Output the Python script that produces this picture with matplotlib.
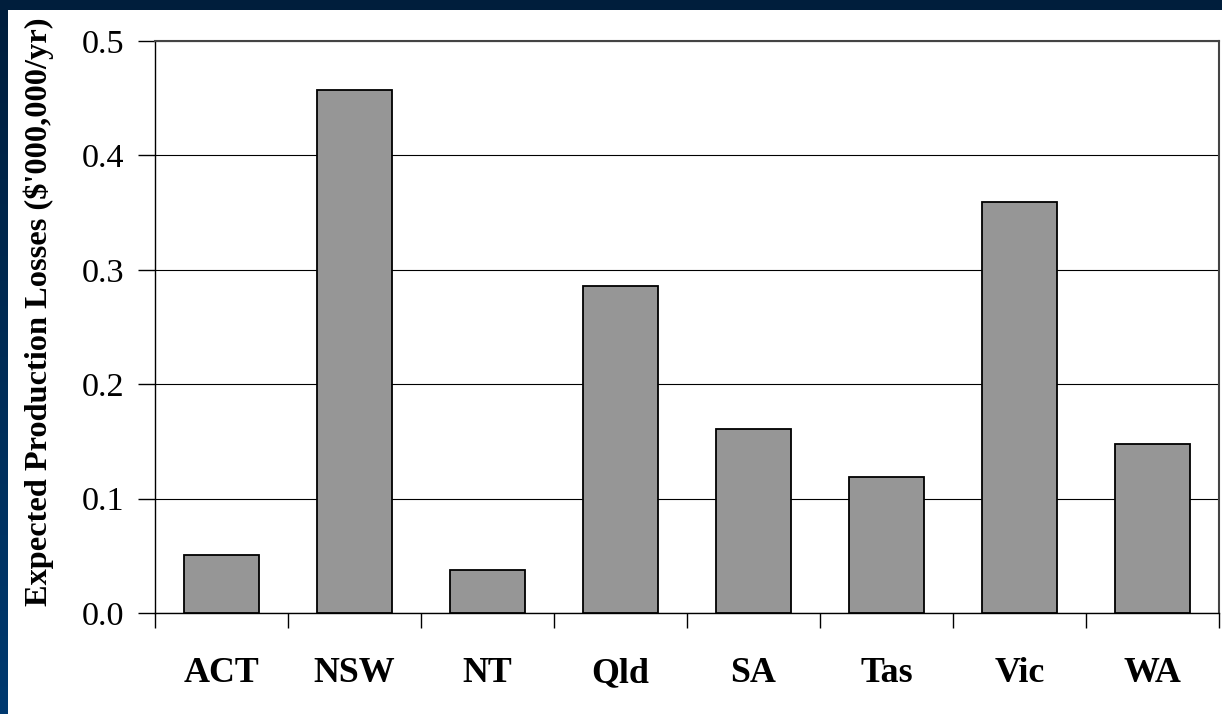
import numpy as np
import matplotlib
matplotlib.use("Agg")
import matplotlib.pyplot as plt
from matplotlib.colors import LinearSegmentedColormap

categories = ["ACT", "NSW", "NT", "Qld", "SA", "Tas", "Vic", "WA"]
values = [0.051, 0.457, 0.038, 0.286, 0.161, 0.119, 0.359, 0.148]
yticks = [0.0, 0.1, 0.2, 0.3, 0.4, 0.5]
ylabel = "Expected Production Losses ($'000,000/yr)"

W, H = 1222, 714
fig = plt.figure(figsize=(W / 100, H / 100), dpi=100)
fig.patch.set_facecolor("white")

# dark frame: top strip and left gradient strip
top = fig.add_axes([0, 1 - 10 / H, 1, 10 / H])
top.set_axis_off()
top.add_patch(plt.Rectangle((0, 0), 1, 1, color="#001e3c", transform=top.transAxes))
left = fig.add_axes([0, 0, 8 / W, 1])
left.set_axis_off()
cmap = LinearSegmentedColormap.from_list("g", ["#001e3c", "#003a70"])
left.imshow(np.linspace(0, 1, 256).reshape(-1, 1), aspect="auto", cmap=cmap,
            extent=[0, 1, 0, 1], origin="upper")

ax = fig.add_axes([155 / W, 1 - 613 / H, (1219 - 155) / W, (613 - 41) / H])
x = np.arange(len(categories))
ax.bar(x, values, width=0.57, color="#969696", edgecolor="black", linewidth=1.3, zorder=3)
ax.set_xlim(-0.5, len(categories) - 0.5)
ax.set_ylim(0, 0.5)
ax.set_yticks(yticks)
ax.set_yticklabels([f"{v:.1f}" for v in yticks], fontfamily="Liberation Serif", fontsize=24.7)
ax.yaxis.grid(True, color="black", linewidth=0.8, zorder=0)
ax.set_xticks(np.arange(-0.5, len(categories) + 0.5, 1))
ax.set_xticklabels([])
ax.set_xticks(x, minor=True)
ax.set_xticklabels(categories, minor=True, fontfamily="Liberation Serif",
                   fontsize=25.8, fontweight="bold")
ax.tick_params(axis="x", which="minor", length=0, pad=32)
ax.tick_params(axis="x", which="major", length=11, direction="out", width=1)
ax.tick_params(axis="y", length=12, direction="out", width=1, pad=10)
for s in ["top", "right"]:
    ax.spines[s].set_color("#444444")
    ax.spines[s].set_linewidth(1.5)
ax.spines["left"].set_linewidth(1)
ax.spines["bottom"].set_linewidth(1)
ax.set_ylabel(ylabel, fontfamily="Liberation Serif", fontsize=23.3, fontweight="bold")
ax.yaxis.set_label_coords(-101 / (1219 - 155), 0.526)

fig.savefig("out.png", dpi=100, facecolor=fig.get_facecolor())
